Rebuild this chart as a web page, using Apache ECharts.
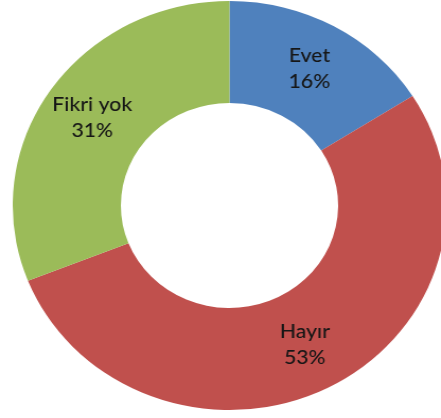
<!DOCTYPE html>
<html>
<head>
<meta charset="utf-8">
<script src="https://cdn.jsdelivr.net/npm/echarts@6/dist/echarts.min.js"></script>
<style>
  html, body { margin: 0; padding: 0; background: #ffffff; overflow: hidden; }
  /* the donut is drawn slightly wider than tall */
  #chart { width: 416px; height: 418px; transform: scaleX(1.06); transform-origin: 0 0; }
</style>
</head>
<body>
<div id="chart"></div>
<script>
const categories = ['Evet', 'Hayır', 'Fikri yok'];
const shares = [16, 53, 31];
const colors = ['#4F81BD', '#C0504D', '#9BBB59'];

const chart = echarts.init(document.getElementById('chart'), null, { renderer: 'canvas' });
chart.setOption({
  backgroundColor: '#ffffff',
  animation: false,
  series: [{
    type: 'pie',
    center: [216.5, 205.5],
    radius: [102.5, 204.5],
    startAngle: 90,
    clockwise: true,
    avoidLabelOverlap: false,
    itemStyle: { borderWidth: 0 },
    label: {
      show: true,
      position: 'inside',
      formatter: '{b}\n{d}%',
      color: '#161616',
      fontFamily: 'Lato, "Open Sans", sans-serif',
      fontSize: 20,
      fontWeight: 500,
      lineHeight: 26,
      align: 'center'
    },
    labelLine: { show: false },
    emphasis: { disabled: true },
    data: categories.map((name, i) => ({
      name: name,
      value: shares[i],
      itemStyle: { color: colors[i] }
    }))
  }]
});
</script>
</body>
</html>
